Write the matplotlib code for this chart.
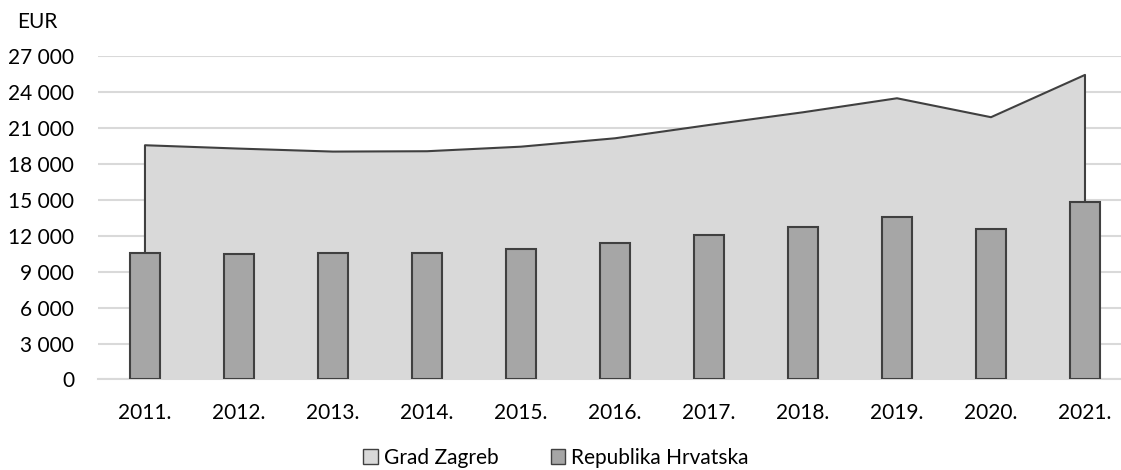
import matplotlib.pyplot as plt
from matplotlib.ticker import FuncFormatter
from matplotlib.patches import Patch

plt.rcParams['font.family'] = ['Lato', 'DejaVu Sans']

years = ['2011.', '2012.', '2013.', '2014.', '2015.', '2016.',
         '2017.', '2018.', '2019.', '2020.', '2021.']
zagreb = [19550, 19270, 19020, 19050, 19430, 20130,
          21240, 22300, 23470, 21890, 25420]
hrvatska = [10530, 10480, 10560, 10580, 10920, 11420,
            12060, 12750, 13540, 12540, 14820]

area_fill = '#d9d9d9'
bar_fill = '#a6a6a6'
edge = '#404040'
grid_c = '#d9d9d9'

fig = plt.figure(figsize=(11.21, 4.70), dpi=100)
ax = fig.add_axes([0.0874, 0.1926, 0.9224, 0.6883])

x = list(range(len(years)))

# area for Zagreb, outline only on top and the two sides
ax.fill_between(x, zagreb, 0, color=area_fill, linewidth=0, zorder=2)
ax.plot([x[0]] + x + [x[-1]], [0] + zagreb + [0], color=edge, lw=1.5, zorder=3)

ax.bar(x, hrvatska, width=0.32, color=bar_fill, edgecolor=edge, linewidth=1.5, zorder=4)

ax.set_xlim(-0.5, len(years) - 0.5)
ax.set_ylim(0, 27000)
ax.set_yticks(range(0, 27001, 3000))
ax.yaxis.set_major_formatter(FuncFormatter(lambda v, p: f'{int(v):,}'.replace(',', ' ')))
ax.set_xticks(x)
ax.set_xticklabels(years)
ax.tick_params(axis='both', length=0, labelsize=15, colors='black')
ax.tick_params(axis='y', pad=17)
ax.tick_params(axis='x', pad=17)

ax.grid(axis='y', color=grid_c, lw=1.5, zorder=0)
ax.set_axisbelow(True)
for s in ['top', 'right', 'left']:
    ax.spines[s].set_visible(False)
ax.spines['bottom'].set_color(grid_c)
ax.spines['bottom'].set_linewidth(1.5)

fig.text(17 / 1121, 1 - 22 / 470, 'EUR', fontsize=15, va='center', ha='left')

handles = [Patch(facecolor=area_fill, edgecolor=edge, label='Grad Zagreb'),
           Patch(facecolor=bar_fill, edgecolor=edge, label='Republika Hrvatska')]
fig.legend(handles=handles, loc='center', bbox_to_anchor=(556 / 1121, 1 - 458 / 470),
           ncol=2, frameon=False, fontsize=15, handlelength=0.7, handleheight=0.7,
           handletextpad=0.3, columnspacing=2.5)

fig.savefig('out.png', dpi=100)
